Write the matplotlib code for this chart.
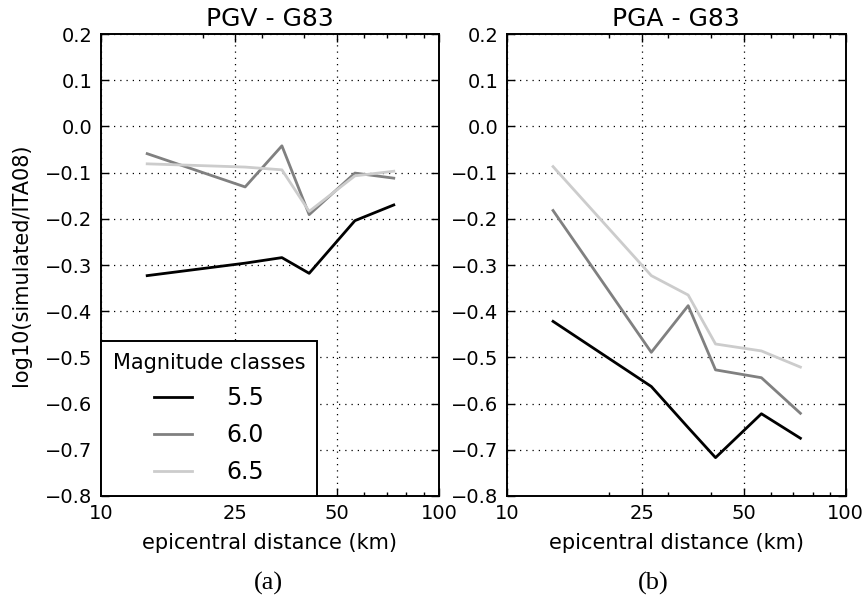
import matplotlib
matplotlib.use("Agg")
import matplotlib.pyplot as plt
from matplotlib.ticker import FixedLocator, FixedFormatter, LogLocator, NullFormatter, MultipleLocator, FuncFormatter

distance = [13.7, 26.7, 34.3, 41.3, 56.4, 73.5]
magnitudes = ["5.5", "6.0", "6.5"]
colors = ["black", "#808080", "#cccccc"]

pgv_55 = [-0.323, -0.296, -0.284, -0.318, -0.204, -0.170]
pgv_60 = [-0.059, -0.131, -0.042, -0.191, -0.101, -0.112]
pgv_65 = [-0.081, -0.088, -0.094, -0.184, -0.107, -0.097]

pga_55 = [-0.422, -0.563, -0.652, -0.717, -0.622, -0.675]
pga_60 = [-0.182, -0.489, -0.388, -0.527, -0.544, -0.621]
pga_65 = [-0.087, -0.323, -0.365, -0.471, -0.486, -0.521]

xticks = [10, 25, 50, 100]
xticklabels = ["10", "25", "50", "100"]


def yfmt(v, pos):
    s = "%.1f" % v
    if s == "-0.0":
        s = "0.0"
    return s.replace("-", "\u2212")


fig = plt.figure(figsize=(8.66, 5.98), dpi=100)
ax1 = fig.add_axes([0.1166, 0.1706, 0.3903, 0.7725])
ax2 = fig.add_axes([0.5851, 0.1706, 0.3915, 0.7725])

panels = [
    (ax1, "PGV - G83", [pgv_55, pgv_60, pgv_65]),
    (ax2, "PGA - G83", [pga_55, pga_60, pga_65]),
]

for ax, title, series in panels:
    for vals, c, lab in zip(series, colors, magnitudes):
        ax.plot(distance, vals, color=c, lw=2, label=lab)
    ax.set_xscale("log")
    ax.set_xlim(10, 100)
    ax.set_ylim(-0.8, 0.2)
    ax.xaxis.set_major_locator(FixedLocator(xticks))
    ax.xaxis.set_major_formatter(FixedFormatter(xticklabels))
    ax.xaxis.set_minor_locator(LogLocator(base=10, subs=range(2, 10)))
    ax.xaxis.set_minor_formatter(NullFormatter())
    ax.yaxis.set_major_locator(MultipleLocator(0.1))
    ax.yaxis.set_major_formatter(FuncFormatter(yfmt))
    ax.tick_params(which="both", direction="in", top=True, right=True, labelsize=14, pad=6)
    ax.tick_params(which="major", length=6, width=1)
    ax.tick_params(which="minor", length=3, width=1)
    ax.grid(True, which="major", color="black", linestyle=(0, (1, 4)), lw=0.9)
    for sp in ax.spines.values():
        sp.set_linewidth(1.4)
    ax.set_title(title, fontsize=18, pad=6)
    ax.set_xlabel("epicentral distance (km)", fontsize=15, labelpad=7)

ax1.set_ylabel("log10(simulated/ITA08)", fontsize=15, labelpad=10)

leg = ax1.legend(loc="lower left", borderaxespad=0, title="Magnitude classes",
                 fontsize=17, title_fontsize=15, fancybox=False, framealpha=1,
                 edgecolor="black", handlelength=1.6, handletextpad=1.45,
                 labelspacing=0.55, borderpad=0.5)
leg.get_frame().set_linewidth(1.4)

fig.text(268 / 866, 1 - 583 / 598, "(a)", ha="center", va="center",
         fontsize=19, family="Liberation Serif")
fig.text(653 / 866, 1 - 583 / 598, "(b)", ha="center", va="center",
         fontsize=19, family="Liberation Serif")

fig.savefig("out.png", dpi=100)
